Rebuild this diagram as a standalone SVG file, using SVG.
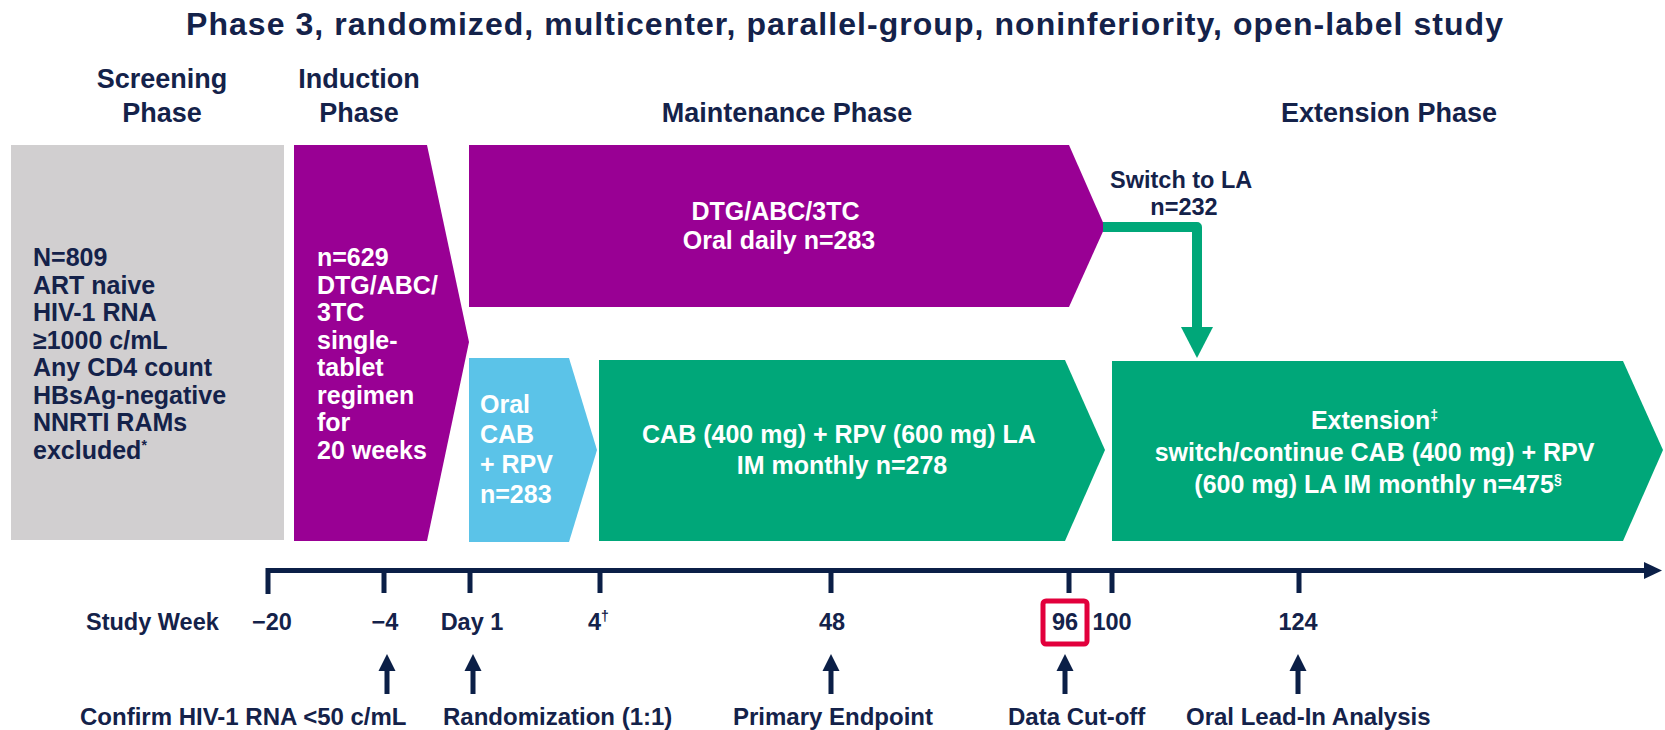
<svg xmlns="http://www.w3.org/2000/svg" width="1665" height="730" viewBox="0 0 1665 730">
  <style>
    text { font-family: "Liberation Sans", Arial, sans-serif; font-weight: bold; }
    .navy { fill: #14224a; }
    .white { fill: #ffffff; }
    .title { font-size: 32px; }
    .phase { font-size: 27px; }
    .box { font-size: 25px; }
    .lbl { font-size: 23.5px; }
    .blbl { font-size: 24px; }
    .sup { font-size: 14px; }
    .tick { stroke: #0b1f47; stroke-width: 5; fill: none; }
    .shaft { stroke: #0b1f47; stroke-width: 5; fill: none; }
    .head { fill: #0b1f47; }
  </style>

  <rect width="1665" height="730" fill="#ffffff"/>

  <!-- Title and phase headers -->
  <text class="navy title" x="844.5" y="35" text-anchor="middle" textLength="1317" lengthAdjust="spacing">Phase 3, randomized, multicenter, parallel-group, noninferiority, open-label study</text>
  <g id="phase-headers">
    <text class="navy phase" x="162" y="88" text-anchor="middle">Screening</text>
    <text class="navy phase" x="162" y="122" text-anchor="middle">Phase</text>
    <text class="navy phase" x="359" y="88" text-anchor="middle">Induction</text>
    <text class="navy phase" x="359" y="122" text-anchor="middle">Phase</text>
    <text class="navy phase" x="787" y="122" text-anchor="middle">Maintenance Phase</text>
    <text class="navy phase" x="1389" y="122" text-anchor="middle">Extension Phase</text>
  </g>

  <!-- Screening -->
  <g id="screening">
    <rect x="11" y="145" width="273" height="395" fill="#d1cfd0"/>
    <text class="navy box">
      <tspan x="33" y="266">N=809</tspan>
      <tspan x="33" y="293.5">ART naive</tspan>
      <tspan x="33" y="321">HIV-1 RNA</tspan>
      <tspan x="33" y="348.5">≥1000 c/mL</tspan>
      <tspan x="33" y="376">Any CD4 count</tspan>
      <tspan x="33" y="403.5">HBsAg-negative</tspan>
      <tspan x="33" y="431">NNRTI RAMs</tspan>
      <tspan x="33" y="458.5">excluded</tspan><tspan class="sup" dy="-9">*</tspan>
    </text>
  </g>

  <!-- Induction -->
  <g id="induction">
    <polygon points="294,145 427,145 469,342 427,541 294,541" fill="#990094"/>
    <text class="white box">
      <tspan x="317" y="266">n=629</tspan>
      <tspan x="317" y="293.5">DTG/ABC/</tspan>
      <tspan x="317" y="321">3TC</tspan>
      <tspan x="317" y="348.5">single-</tspan>
      <tspan x="317" y="376">tablet</tspan>
      <tspan x="317" y="403.5">regimen</tspan>
      <tspan x="317" y="431">for</tspan>
      <tspan x="317" y="458.5">20 weeks</tspan>
    </text>
  </g>

  <!-- Maintenance: DTG/ABC/3TC -->
  <g id="maintenance-dtg">
    <polygon points="469,145 1069,145 1105,227 1069,307 469,307" fill="#990094"/>
    <text class="white box" text-anchor="middle">
      <tspan x="779" y="220">DTG/ABC/3TC</tspan>
      <tspan x="779" y="249">Oral daily n=283</tspan>
    </text>
  </g>

  <!-- Oral lead-in -->
  <g id="oral-lead-in">
    <polygon points="469,358 569,358 597,450 569,542 469,542" fill="#5bc3e8"/>
    <text class="white box">
      <tspan x="480" y="413">Oral</tspan>
      <tspan x="480" y="443">CAB</tspan>
      <tspan x="480" y="473">+ RPV</tspan>
      <tspan x="480" y="503">n=283</tspan>
    </text>
  </g>

  <!-- Maintenance: CAB + RPV LA -->
  <g id="maintenance-la">
    <polygon points="599,360 1065,360 1105,450 1065,541 599,541" fill="#00a779"/>
    <text class="white box" text-anchor="middle">
      <tspan x="842" y="443">CAB (400 mg) + RPV (600 mg) LA</tspan>
      <tspan x="842" y="474">IM monthly n=278</tspan>
    </text>
  </g>

  <!-- Extension -->
  <g id="extension">
    <polygon points="1112,361 1623,361 1663,450 1623,541 1112,541" fill="#00a779"/>
    <text class="white box" text-anchor="middle">
      <tspan x="1378" y="429">Extension<tspan class="sup" dy="-9">‡</tspan></tspan>
      <tspan x="1378" y="461">switch/continue CAB (400 mg) + RPV</tspan>
      <tspan x="1378" y="493">(600 mg) LA IM monthly n=475<tspan class="sup" dy="-9">§</tspan></tspan>
    </text>
  </g>

  <!-- Switch label -->
  <g id="switch-label">
    <text class="navy lbl" text-anchor="middle">
      <tspan x="1184" y="188">Switch to LA</tspan>
      <tspan x="1184" y="215">n=232</tspan>
    </text>
  </g>

  <!-- Timeline -->
  <g id="timeline">
    <path class="tick" d="M268,594 V570.5 H1648"/>
    <polygon points="1644,562 1662,570.5 1644,579" fill="#0b1f47"/>
    <path class="tick" d="M384,570 V593 M470,570 V593 M600,570 V593 M831,570 V593 M1069,570 V593 M1112,570 V593 M1299,570 V593"/>
    <text class="navy lbl" x="86" y="630">Study Week</text>
    <text class="navy lbl" x="272" y="630" text-anchor="middle">−20</text>
    <text class="navy lbl" x="385" y="630" text-anchor="middle">−4</text>
    <text class="navy lbl" x="472" y="630" text-anchor="middle">Day 1</text>
    <text class="navy lbl" x="588" y="630">4<tspan class="sup" dy="-9">†</tspan></text>
    <text class="navy lbl" x="832" y="630" text-anchor="middle">48</text>
    <text class="navy lbl" x="1065" y="630" text-anchor="middle">96</text>
    <text class="navy lbl" x="1112" y="630" text-anchor="middle">100</text>
    <text class="navy lbl" x="1298" y="630" text-anchor="middle">124</text>
    <rect x="1043" y="601" width="44" height="43" rx="3" fill="none" stroke="#e2003c" stroke-width="5"/>
  </g>

  <!-- Bottom milestone labels -->
  <g id="milestones">
    <text class="navy blbl" x="80" y="725">Confirm HIV-1 RNA &lt;50 c/mL</text>
    <text class="navy blbl" x="443" y="725">Randomization (1:1)</text>
    <text class="navy blbl" x="833" y="725" text-anchor="middle">Primary Endpoint</text>
    <text class="navy blbl" x="1008" y="725">Data Cut-off</text>
    <text class="navy blbl" x="1186" y="725">Oral Lead-In Analysis</text>
  </g>

  <!-- Connectors -->
  <g id="connectors">
    <path d="M1103,227 H1197 V330" fill="none" stroke="#00a779" stroke-width="10" stroke-linejoin="round"/>
    <polygon points="1181,327 1213,327 1197,358" fill="#00a779"/>
    <path class="shaft" d="M387,694 V668 M473,694 V668 M831,694 V668 M1065,694 V668 M1298,694 V668"/>
    <polygon class="head" points="378.5,671 387,654 395.5,671"/>
    <polygon class="head" points="464.5,671 473,654 481.5,671"/>
    <polygon class="head" points="822.5,671 831,654 839.5,671"/>
    <polygon class="head" points="1056.5,671 1065,654 1073.5,671"/>
    <polygon class="head" points="1289.5,671 1298,654 1306.5,671"/>
  </g>
</svg>
